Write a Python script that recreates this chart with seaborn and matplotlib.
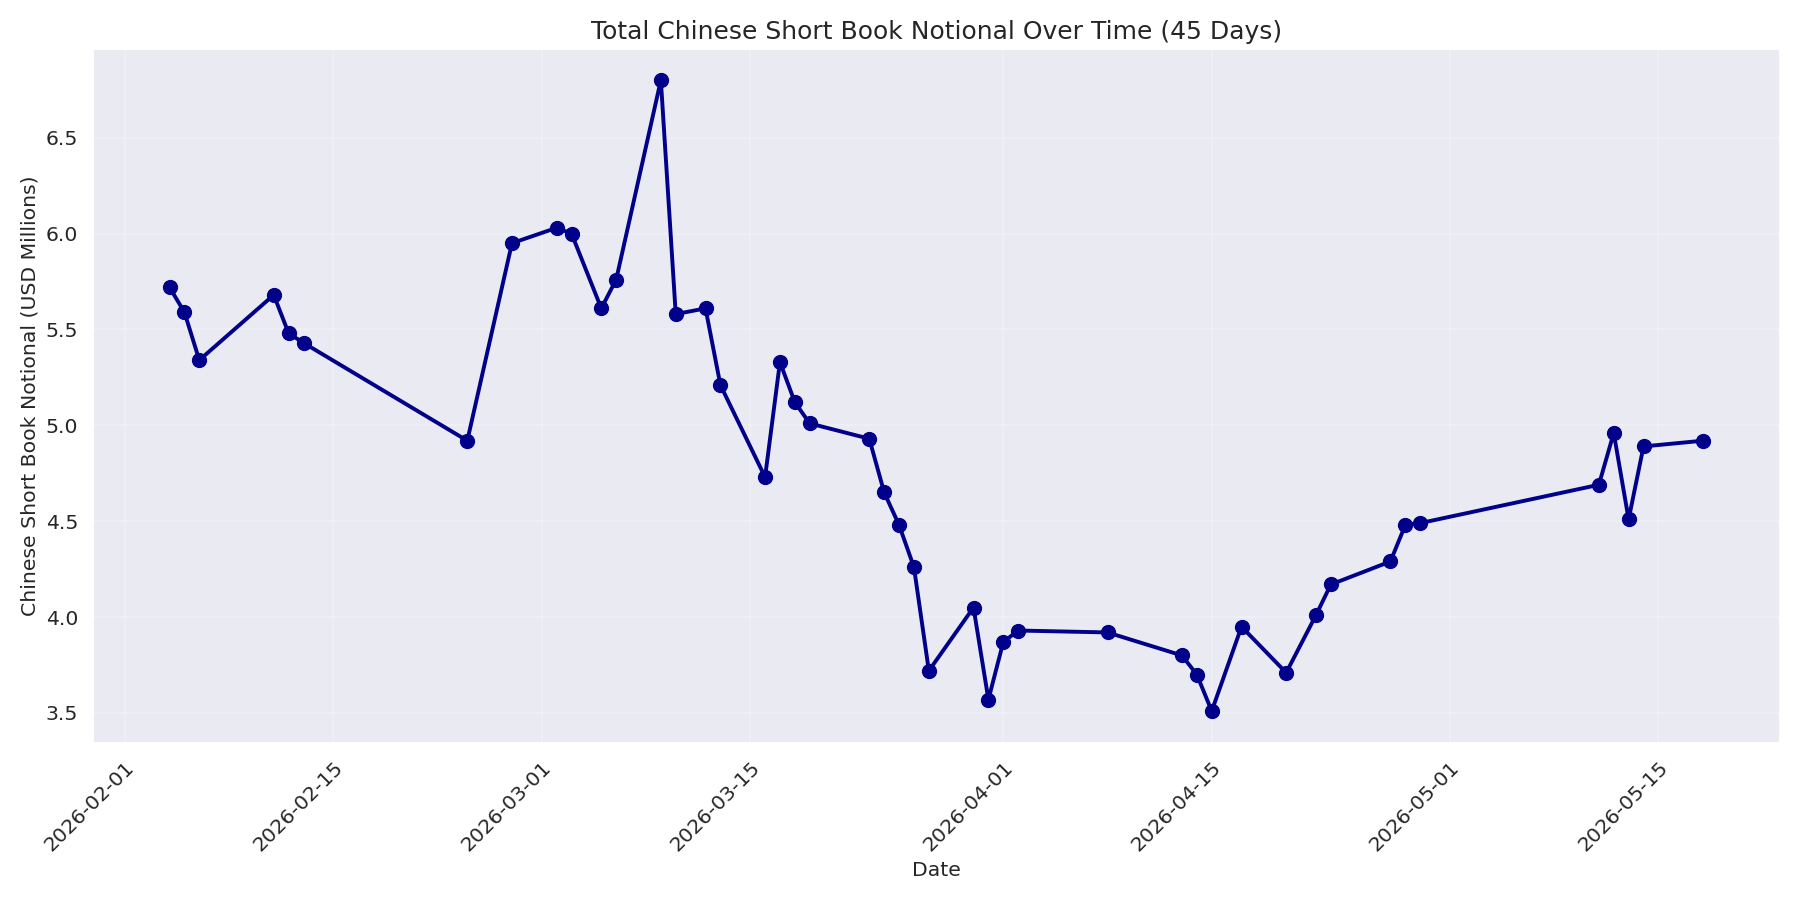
import matplotlib
matplotlib.use("Agg")
import matplotlib.pyplot as plt
import seaborn as sns
import pandas as pd

dates = ["2026-02-04","2026-02-05","2026-02-06","2026-02-11","2026-02-12","2026-02-13","2026-02-24","2026-02-27",
 "2026-03-02","2026-03-03","2026-03-05","2026-03-06","2026-03-09","2026-03-10","2026-03-12","2026-03-13",
 "2026-03-16","2026-03-17","2026-03-18","2026-03-19","2026-03-23","2026-03-24","2026-03-25","2026-03-26",
 "2026-03-27","2026-03-30","2026-03-31","2026-04-01","2026-04-02","2026-04-08","2026-04-13","2026-04-14",
 "2026-04-15","2026-04-17","2026-04-20","2026-04-22","2026-04-23","2026-04-27","2026-04-28","2026-04-29",
 "2026-05-11","2026-05-12","2026-05-13","2026-05-14","2026-05-18"]
values = [5.72,5.59,5.34,5.68,5.48,5.43,4.92,5.95,6.03,6.00,5.61,5.76,6.80,5.58,5.61,5.21,4.73,5.33,5.12,5.01,
 4.93,4.65,4.48,4.26,3.72,4.05,3.57,3.87,3.93,3.92,3.80,3.70,3.51,3.95,3.71,4.01,4.17,4.29,4.48,4.49,
 4.69,4.96,4.51,4.89,4.92]

df = pd.DataFrame({"Date": pd.to_datetime(dates), "v": values})
sns.set_theme(style="darkgrid")
fig, ax = plt.subplots(figsize=(16, 8), dpi=112.5)
sns.lineplot(data=df, x="Date", y="v", ax=ax, color="darkblue", marker="o", markersize=9,
             linewidth=2.5, markeredgecolor="darkblue")
ax.set_title("Total Chinese Short Book Notional Over Time (45 Days)", fontsize=16)
ax.set_xlabel("Date", fontsize=13)
ax.set_ylabel("Chinese Short Book Notional (USD Millions)", fontsize=13)
ax.tick_params(labelsize=13)
ax.set_xticks(pd.to_datetime(["2026-02-01","2026-02-15","2026-03-01","2026-03-15","2026-04-01","2026-04-15","2026-05-01","2026-05-15"]))
ax.set_xticklabels(["2026-02-01","2026-02-15","2026-03-01","2026-03-15","2026-04-01","2026-04-15","2026-05-01","2026-05-15"], rotation=45, ha="right", rotation_mode="anchor")
ax.grid(True, alpha=0.3, color="white")
fig.tight_layout()
fig.savefig("out.png")
